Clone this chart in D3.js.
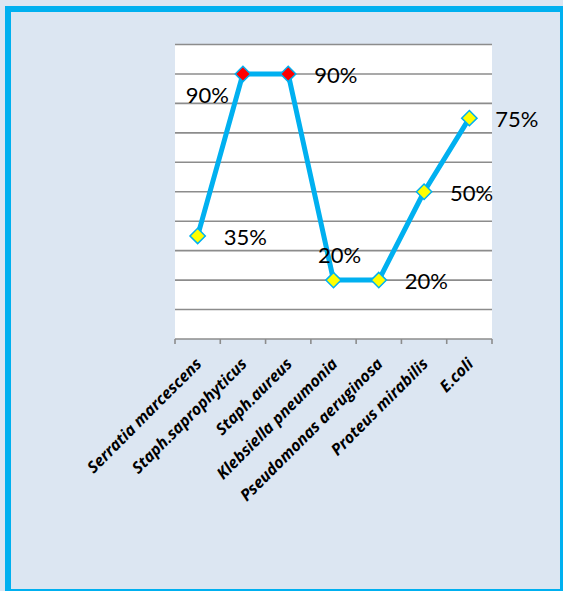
<!DOCTYPE html>
<html>
<head>
<meta charset="utf-8">
<script src="https://cdn.jsdelivr.net/npm/d3@7"></script>
<style>
  html, body { margin: 0; padding: 0; background: #dce6f2; }
  svg { display: block; }
</style>
</head>
<body>
<svg id="chart" width="563" height="591"></svg>
<script>
// Bacterial species and the percentage recorded for each
const categories = [
  "Serratia marcescens",
  "Staph.saprophyticus",
  "Staph.aureus",
  "Klebsiella pneumonia",
  "Pseudomonas aeruginosa",
  "Proteus mirabilis",
  "E.coli"
];
const values = [35, 90, 90, 20, 20, 50, 75];
const markerColors = ["#ffff00", "#ff0000", "#ff0000", "#ffff00", "#ffff00", "#ffff00", "#ffff00"];
const labelPlacement = ["right", "left", "right", "above", "right", "right", "right"];
const yTicks = [0, 10, 20, 30, 40, 50, 60, 70, 80, 90, 100];

const svg = d3.select("#chart");

// outer frame
svg.append("rect")
  .attr("x", 8).attr("y", 9)
  .attr("width", 555).attr("height", 583)
  .attr("fill", "#dce6f2")
  .attr("stroke", "#00b0f0")
  .attr("stroke-width", 6);

const plot = { left: 175, right: 492, top: 44.5, bottom: 339 };

const x = d3.scaleBand()
  .domain(categories)
  .range([plot.left, plot.right])
  .padding(0);

const y = d3.scaleLinear()
  .domain([0, 100])
  .range([plot.bottom, plot.top]);

// plot area
svg.append("rect")
  .attr("x", plot.left).attr("y", plot.top)
  .attr("width", plot.right - plot.left)
  .attr("height", plot.bottom - plot.top)
  .attr("fill", "#ffffff");

// horizontal gridlines
svg.append("g")
  .selectAll("line")
  .data(yTicks.filter(t => t > 0))
  .join("line")
  .attr("x1", plot.left).attr("x2", plot.right)
  .attr("y1", d => y(d)).attr("y2", d => y(d))
  .attr("stroke", "#8c8c8c")
  .attr("stroke-width", 1.6);

// category axis with ticks on the band boundaries
const axisG = svg.append("g")
  .attr("transform", `translate(0,${plot.bottom})`);
axisG.append("line")
  .attr("x1", plot.left).attr("x2", plot.right)
  .attr("y1", 0).attr("y2", 0)
  .attr("stroke", "#8c8c8c").attr("stroke-width", 1.6);
const boundaries = categories.map(c => x(c)).concat([x(categories[categories.length - 1]) + x.bandwidth()]);
axisG.selectAll("line.tick")
  .data(boundaries)
  .join("line")
  .attr("class", "tick")
  .attr("x1", d => d).attr("x2", d => d)
  .attr("y1", 0).attr("y2", 5)
  .attr("stroke", "#8c8c8c").attr("stroke-width", 1.6);

axisG.selectAll("text")
  .data(categories)
  .join("text")
  .attr("transform", d => `translate(${x(d) + x.bandwidth() / 2 + 5},${26}) rotate(-45)`)
  .attr("text-anchor", "end")
  .attr("font-family", "'Open Sans', Lato, sans-serif")
  .attr("font-weight", "bold")
  .attr("font-style", "italic")
  .attr("font-size", 16)
  .attr("fill", "#000")
  .text(d => d);

const pts = categories.map((c, i) => ({ c, v: values[i], color: markerColors[i], place: labelPlacement[i] }));

// the series line
const line = d3.line()
  .x(d => x(d.c) + x.bandwidth() / 2)
  .y(d => y(d.v));

svg.append("path")
  .datum(pts)
  .attr("d", line)
  .attr("fill", "none")
  .attr("stroke", "#00b0f0")
  .attr("stroke-width", 5)
  .attr("stroke-linejoin", "round");

// diamond markers
const diamond = d3.symbol().type(d3.symbolDiamond2).size(150);
svg.append("g")
  .selectAll("path")
  .data(pts)
  .join("path")
  .attr("transform", d => `translate(${x(d.c) + x.bandwidth() / 2},${y(d.v)})`)
  .attr("d", diamond)
  .attr("fill", d => d.color)
  .attr("stroke", "#00b0f0")
  .attr("stroke-width", 1.5);

// value labels
const offsets = {
  right: { dx: 26, dy: 9, anchor: "start" },
  left: { dx: -14, dy: 29, anchor: "end" },
  above: { dx: 6, dy: -17, anchor: "middle" }
};
svg.append("g")
  .selectAll("text")
  .data(pts)
  .join("text")
  .attr("x", d => x(d.c) + x.bandwidth() / 2 + offsets[d.place].dx)
  .attr("y", d => y(d.v) + offsets[d.place].dy)
  .attr("text-anchor", d => offsets[d.place].anchor)
  .attr("font-family", "Lato, 'Open Sans', sans-serif")
  .attr("font-size", 22)
  .attr("fill", "#000")
  .text(d => d.v + "%");
</script>
</body>
</html>
